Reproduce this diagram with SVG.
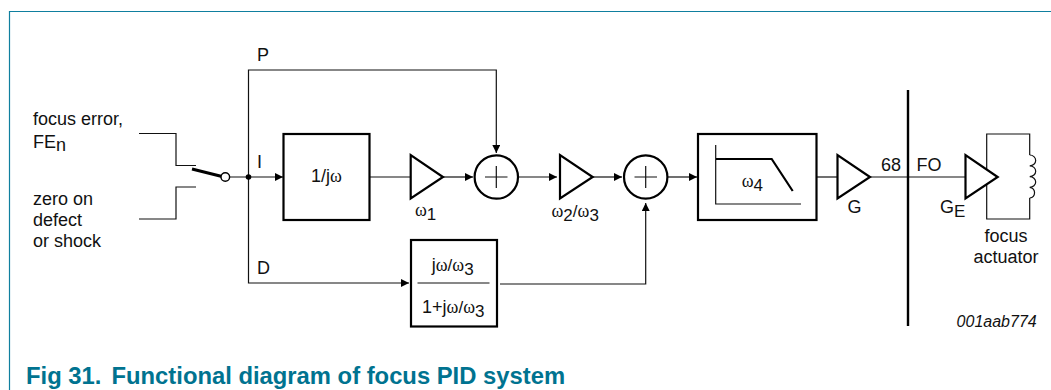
<svg xmlns="http://www.w3.org/2000/svg" width="1051" height="390" viewBox="0 0 1051 390">
<style>
text{font-family:"Liberation Sans",Arial,sans-serif;font-size:18px;fill:#111}
.g{font-family:"Liberation Serif","Times New Roman",serif;font-size:18px}
.s{font-size:17px}
.l{fill:none;stroke:#111;stroke-width:1.2}
.b{fill:#fff;stroke:#000;stroke-width:2.2}
.t{fill:none;stroke:#000;stroke-width:2.2}
.a{fill:none;stroke:#111;stroke-width:1.2;marker-end:url(#ah)}
</style>
<defs>
<marker id="ah" viewBox="0 0 8 8" refX="8" refY="4" markerWidth="8" markerHeight="8" markerUnits="userSpaceOnUse" orient="auto"><path d="M0 0L8 4L0 8Z" fill="#000"/></marker>
</defs>
<rect width="1051" height="390" fill="#fff"/>
<path id="frame" d="M9.5 390V11.5H1051" fill="none" stroke="#0f7f9f" stroke-width="1.2"/>
<g id="connectors">
<path class="l" d="M139 133.5H176V165.5H196"/>
<path class="l" d="M196 187H176V219H139"/>
<path class="a" d="M229.5 177H283"/>
<path class="a" d="M248.5 177V70H496.3V153"/>
<path class="a" d="M248.5 177V283H409"/>
<path class="l" d="M370 177H411"/>
<path class="a" d="M443 177H473"/>
<path class="a" d="M518 177H557"/>
<path class="a" d="M593 177H622"/>
<path class="a" d="M667.5 177H697"/>
<path class="a" d="M500 284H645.7V203"/>
<path class="l" d="M817 177H838"/>
<path class="l" d="M870 177H966"/>
<path d="M908 90V326" fill="none" stroke="#000" stroke-width="2.4"/>
</g>
<g id="input-labels">
<text x="33" y="125">focus error,</text>
<text x="33" y="147.7">FE<tspan dy="3">n</tspan></text>
<text x="33" y="204.5">zero on</text>
<text x="33" y="226">defect</text>
<text x="33" y="246.7">or shock</text>
<text x="257" y="60.7">P</text>
<text x="257" y="168">I</text>
<text x="257" y="273.5">D</text>
</g>
<g id="switch">
<path d="M192 169L222 176.5" fill="none" stroke="#000" stroke-width="3"/>
<circle cx="225.3" cy="177" r="4.3" fill="#fff" stroke="#000" stroke-width="1.4"/>
<circle cx="248.5" cy="177" r="2.8" fill="#000"/>
</g>
<g id="integrator">
<rect class="b" x="283.5" y="134" width="86" height="86"/>
<text x="311" y="182.3">1/j<tspan class="g">ω</tspan></text>
</g>
<g id="amp1">
<path class="b" d="M410.7 155V198.5L443 177Z"/>
<text x="415" y="216"><tspan class="g">ω</tspan><tspan class="s" dy="4">1</tspan></text>
</g>
<g id="sum1">
<circle class="b" cx="496.3" cy="177" r="21.7"/>
<path class="l" d="M485 177H507.5M496.3 166V188"/>
</g>
<g id="amp2">
<path class="b" d="M560 155V198.5L592.7 177Z"/>
<text x="551.5" y="216.7"><tspan class="g">ω</tspan><tspan class="s" dy="4">2</tspan><tspan class="s" dy="-4">/</tspan><tspan class="g">ω</tspan><tspan class="s" dy="4">3</tspan></text>
</g>
<g id="sum2">
<circle class="b" cx="645.7" cy="177" r="21.7"/>
<path class="l" d="M634.5 177H657M645.7 166V188"/>
</g>
<g id="lowpass">
<rect class="b" x="698" y="134" width="118.5" height="86"/>
<path class="l" d="M715.7 145V204H801"/>
<path class="t" d="M716 159H771.7L792.7 191"/>
<text x="741.7" y="186.7"><tspan class="g">ω</tspan><tspan class="s" dy="4">4</tspan></text>
</g>
<g id="derivative">
<rect class="b" x="411" y="240" width="86" height="86.5"/>
<path class="l" d="M417.5 283H489.5"/>
<text x="431.7" y="270.7">j<tspan class="g">ω</tspan><tspan class="s">/</tspan><tspan class="g">ω</tspan><tspan class="s" dy="4">3</tspan></text>
<text x="422" y="312.7">1+j<tspan class="g">ω</tspan><tspan class="s">/</tspan><tspan class="g">ω</tspan><tspan class="s" dy="4">3</tspan></text>
</g>
<g id="amp-g">
<path class="b" d="M837.5 155V198.5L870 177Z"/>
<text x="847.5" y="212.7">G</text>
</g>
<g id="labels-68-fo">
<text x="881" y="170.7">68</text>
<text x="916.5" y="170.7">FO</text>
</g>
<g id="actuator">
<path class="l" d="M1029.7 155V134H986.7V219H1029.7V198"/>
<path class="l" d="M1029.7 155A6 5.4 0 0 1 1029.7 165.8A6 5.4 0 0 1 1029.7 176.6A6 5.4 0 0 1 1029.7 187.4A6 5.4 0 0 1 1029.7 198"/>
<path class="b" d="M965.5 155V198.5L997.7 177Z"/>
<text x="940" y="212.7">G<tspan class="s" dy="4">E</tspan></text>
<text x="1006" y="241.7" text-anchor="middle">focus</text>
<text x="1006" y="262.7" text-anchor="middle">actuator</text>
</g>
<text id="code" x="1036.7" y="327" text-anchor="end" font-style="italic" style="font-size:16px">001aab774</text>
<text id="title" x="26" y="384.3" style="font-size:23.8px;font-weight:bold;fill:#007390">Fig 31.<tspan x="111.5">Functional diagram of focus PID system</tspan></text>
</svg>
